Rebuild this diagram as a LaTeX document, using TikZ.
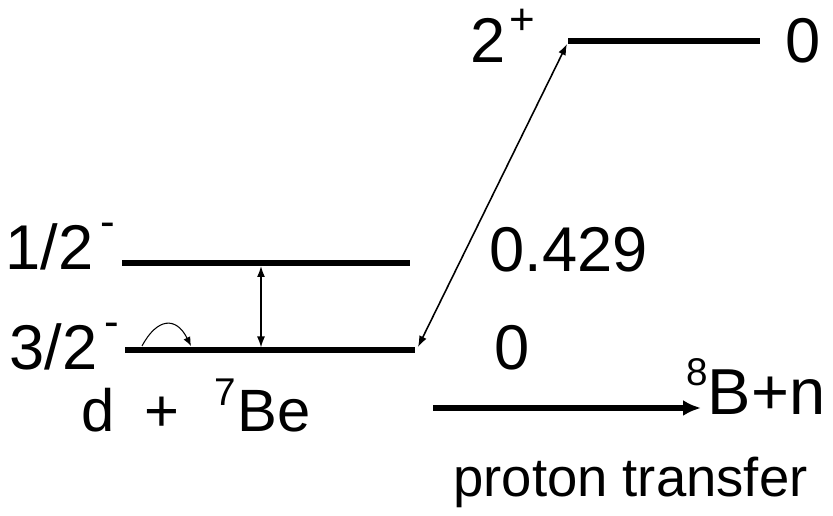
\documentclass[tikz,border=0pt]{standalone}
\usepackage{fontspec}
\setmainfont{Liberation Sans}
\usetikzlibrary{arrows.meta}
\newcommand{\upsc}[2][25]{\raisebox{0.45em}{\fontsize{#1}{#1}\selectfont #2}}
\tikzset{
  level/.style={line width=3.1pt},
  levlab/.style={font=\fontsize{36}{40}\selectfont, inner sep=0pt, anchor=base west},
  reaclab/.style={font=\fontsize{34}{38}\selectfont, inner sep=0pt, anchor=base west},
  twoway/.style={{Latex[length=2.2mm,width=1.6mm]}-{Latex[length=2.2mm,width=1.6mm]}, line width=0.9pt},
  hop/.style={-{Latex[length=1.8mm,width=1.5mm]}, line width=0.6pt},
  reaction/.style={-{Latex[length=3.6mm,width=3.2mm]}, line width=3.1pt}
}

\begin{document}
\begin{tikzpicture}[x=0.02cm,y=-0.02cm]
\useasboundingbox (0,0) rectangle (833,516);

% levels of d + 7Be and of 8B
\coordinate (gsL) at (125,350); \coordinate (gsR) at (415,350);
\coordinate (exL) at (122,263); \coordinate (exR) at (410,263);
\coordinate (bL) at (568,41);  \coordinate (bR) at (760,41);
\draw[level] (gsL) -- (gsR);
\draw[level] (exL) -- (exR);
\draw[level] (bL) -- (bR);

\node[levlab] (jex) at (5,270) {1/2\hspace{4pt}\raisebox{0.08em}{\upsc{-}}};
\node[levlab] (jgs) at (9,370) {3/2\hspace{4pt}\raisebox{0.08em}{\upsc{-}}};
\node[levlab] (jb) at (470,63) {2\hspace{2pt}\upsc{+}};
\node[levlab] (eb) at (785,63) {0};
\node[levlab] (eex) at (489,272) {0.429};
\node[levlab] (egs) at (494,370) {0};

% couplings
\coordinate (upT) at (261,266); \coordinate (upB) at (261,347.5);
\draw[twoway] (upT) -- (upB);
\coordinate (trA) at (418,347); \coordinate (trB) at (567,44);
\draw[twoway] (trA) -- (trB);
\coordinate (hpA) at (142,346); \coordinate (hpB) at (191,346);
\draw[hop] (hpA) .. controls (157,318) and (176,316) .. (hpB);

% reaction
\node[reaclab] (entr) at (81,432) {d\hspace{17pt}+\hspace{20pt}\upsc[22]{7}\hspace{1pt}Be};
\node[reaclab, font=\fontsize{37}{40}\selectfont] (exit) at (686,415) {\upsc[22]{8}B+n};
\coordinate (rxA) at (433,408); \coordinate (rxB) at (701,408);
\draw[reaction] (rxA) -- (rxB);
\node[reaclab, font=\fontsize{31}{36}\selectfont] (proc) at (453,497) {proton transfer};
\end{tikzpicture}
\end{document}
